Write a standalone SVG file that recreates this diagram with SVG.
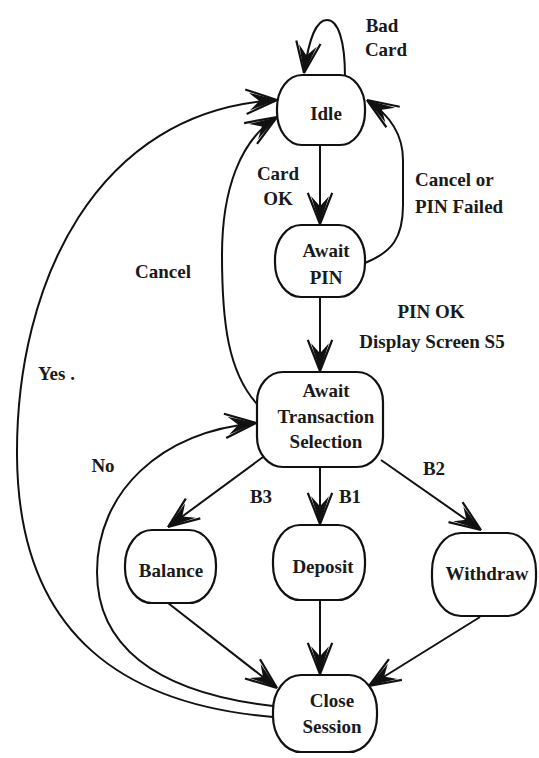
<svg xmlns="http://www.w3.org/2000/svg" width="539" height="758" viewBox="0 0 539 758">
  <style>
    .node { fill: #ffffff; stroke: #111111; stroke-width: 2.2; }
    .edge { fill: none; stroke: #111111; stroke-width: 2; marker-end: url(#arrow); }
    text { font-family: "Liberation Serif", "Times New Roman", serif; font-size: 19px; font-weight: bold; fill: #1a1a1a; }
    .c { text-anchor: middle; }
  </style>
  <defs>
    <!-- barbed arrowhead with a filled dart core -->
    <marker id="arrow" markerUnits="userSpaceOnUse" markerWidth="40" markerHeight="40" viewBox="-32 -16 36 32" refX="0" refY="0" orient="auto" overflow="visible">
      <path d="M0,0 L-28,-11 M0,0 L-28,11" fill="none" stroke="#111111" stroke-width="2"/>
      <path d="M0,0 L-25,-8 L-16,0 L-25,8 Z" fill="#111111"/>
    </marker>
  </defs>

  <rect width="539" height="758" fill="#ffffff"/>

  <!-- transitions -->
  <g id="connectors">
    <!-- Bad Card self-loop -->
    <path class="edge" d="M345,77 C345,40 338,20 327,20 C316,20 309,38 304,73"/>
    <!-- Card OK -->
    <path class="edge" d="M320,145 L320,224"/>
    <!-- Cancel or PIN Failed -->
    <path class="edge" d="M365,263 C392,252 403,238 403,205 L403,160 C403,135 390,115 367,100"/>
    <!-- PIN OK -->
    <path class="edge" d="M320,297 L320,371"/>
    <!-- Cancel back to Idle -->
    <path class="edge" d="M257,404 C228,372 222,322 222,255 C222,190 240,140 277,117"/>
    <!-- Yes back to Idle -->
    <path class="edge" d="M273,717 C130,705 18,640 17,455 C16,285 95,110 277,100"/>
    <!-- No back to transaction selection -->
    <path class="edge" d="M273,706 C150,692 97,642 97,572 C97,492 160,432 256,423"/>
    <!-- B3, B1, B2 -->
    <path class="edge" d="M263,457 L168,527"/>
    <path class="edge" d="M320,467 L320,524"/>
    <path class="edge" d="M381,460 L481,530"/>
    <!-- into Close Session -->
    <path class="edge" d="M168,603 L277,688"/>
    <path class="edge" d="M320,600 L320,674"/>
    <path class="edge" d="M480,617 L369,686"/>
  </g>

  <g id="idle">
    <rect class="node" x="277" y="75" width="88" height="70" rx="25" ry="33"/>
    <text class="c" x="326" y="120">Idle</text>
  </g>
  <g id="await-pin">
    <rect class="node" x="275" y="225" width="90" height="72" rx="26" ry="34"/>
    <text class="c" x="326" y="257">Await</text>
    <text class="c" x="326" y="284">PIN</text>
  </g>
  <g id="await-transaction-selection">
    <rect class="node" x="257" y="372" width="126" height="95" rx="26" ry="30"/>
    <text class="c" x="326" y="397">Await</text>
    <text class="c" x="326" y="423">Transaction</text>
    <text class="c" x="326" y="448">Selection</text>
  </g>
  <g id="balance">
    <rect class="node" x="125" y="530" width="91" height="73" rx="27" ry="35"/>
    <text class="c" x="171" y="577">Balance</text>
  </g>
  <g id="deposit">
    <rect class="node" x="273" y="525" width="92" height="75" rx="27" ry="35"/>
    <text class="c" x="323" y="573">Deposit</text>
  </g>
  <g id="withdraw">
    <rect class="node" x="432" y="533" width="104" height="83" rx="29" ry="38"/>
    <text class="c" x="487" y="580">Withdraw</text>
  </g>
  <g id="close-session">
    <rect class="node" x="273" y="675" width="104" height="77" rx="28" ry="36"/>
    <text class="c" x="332" y="707">Close</text>
    <text class="c" x="332" y="733">Session</text>
  </g>

  <!-- transition labels -->
  <g id="labels">
    <text class="c" x="382" y="32">Bad</text>
    <text class="c" x="386" y="56">Card</text>
    <text class="c" x="278" y="180">Card</text>
    <text class="c" x="278" y="205">OK</text>
    <text x="415" y="186">Cancel or</text>
    <text x="415" y="213">PIN Failed</text>
    <text class="c" x="431" y="318">PIN OK</text>
    <text class="c" x="432" y="348">Display Screen S5</text>
    <text class="c" x="163" y="278">Cancel</text>
    <text x="38" y="380">Yes .</text>
    <text class="c" x="103" y="472">No</text>
    <text class="c" x="261" y="503">B3</text>
    <text class="c" x="350" y="503">B1</text>
    <text class="c" x="434" y="475">B2</text>
  </g>
</svg>
